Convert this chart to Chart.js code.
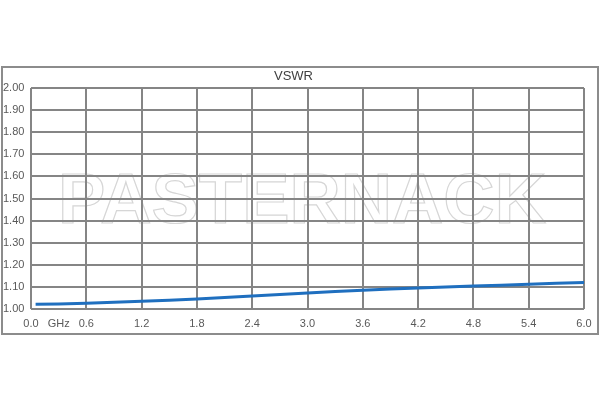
<!DOCTYPE html>
<html lang="en">
<head>
    <meta charset="UTF-8">
    <title>VSWR</title>
    <script src="https://cdn.jsdelivr.net/npm/chart.js"></script>
    <style>
        body { margin: 0; background: #fff; }
        canvas { display: block; }
    </style>
</head>
<body>
    <canvas id="vswrChart" width="600" height="400"></canvas>
    <script>
        const freqGHz = [0.05, 0.3, 0.6, 0.9, 1.2, 1.5, 1.8, 2.1, 2.4, 2.7, 3.0, 3.3, 3.6, 3.9, 4.2, 4.5, 4.8, 5.1, 5.4, 5.7, 6.0];
        const vswr = [1.021, 1.023, 1.026, 1.030, 1.035, 1.040, 1.045, 1.052, 1.059, 1.066, 1.072, 1.079, 1.085, 1.090, 1.095, 1.100, 1.104, 1.108, 1.112, 1.116, 1.120];
        const unitLabel = 'GHz';
        const watermark = 'PASTERNACK';

        const gridGrey = '#858585';

        const frame = {
            id: 'frame',
            beforeDraw(chart) {
                const c = chart.ctx;
                c.save();
                c.fillStyle = '#fff';
                c.fillRect(0, 0, chart.width, chart.height);
                c.strokeStyle = '#8c8c8c';
                c.lineWidth = 2;
                c.strokeRect(2, 67, 596, 267);
                // watermark under the grid
                c.font = 'bold 71px "Liberation Sans", Arial, sans-serif';
                c.textAlign = 'center';
                c.textBaseline = 'alphabetic';
                c.lineWidth = 1.2;
                c.strokeStyle = '#d6d6d6';
                c.strokeText(watermark, 302, 223);
                c.restore();
            }
        };

        new Chart(document.getElementById('vswrChart'), {
            type: 'line',
            data: {
                datasets: [{
                    data: freqGHz.map((f, i) => ({ x: f, y: vswr[i] })),
                    borderColor: '#1f6fbf',
                    borderWidth: 3,
                    pointRadius: 0,
                    tension: 0
                }]
            },
            options: {
                responsive: false,
                animation: false,
                layout: { padding: { left: 3, right: 16, top: 0, bottom: 0 } },
                plugins: {
                    legend: { display: false },
                    tooltip: { enabled: false },
                    title: {
                        display: true,
                        text: 'VSWR',
                        color: '#404040',
                        font: { family: '"Liberation Sans", Arial, sans-serif', size: 13, weight: 'normal' },
                        padding: { top: 69, bottom: 3.4 }
                    }
                },
                scales: {
                    x: {
                        type: 'linear',
                        min: 0,
                        max: 6,
                        afterFit(scale) { scale.height = 91; },
                        border: { display: false },
                        grid: {
                            color: ctx => ctx.index % 2 ? 'rgba(0,0,0,0)' : gridGrey,
                            lineWidth: 2,
                            drawTicks: false
                        },
                        ticks: {
                            stepSize: 0.3,
                            maxRotation: 0,
                            autoSkip: false,
                            padding: 8,
                            color: '#595959',
                            font: { family: '"Liberation Sans", Arial, sans-serif', size: 11 },
                            callback: (v, i) => i === 1 ? unitLabel : (i % 2 ? '' : v.toFixed(1))
                        }
                    },
                    y: {
                        min: 1,
                        max: 2,
                        afterFit(scale) { scale.width = 28; },
                        border: { display: false },
                        grid: { color: gridGrey, lineWidth: 2, drawTicks: false },
                        ticks: {
                            stepSize: 0.1,
                            crossAlign: 'far',
                            color: '#595959',
                            font: { family: '"Liberation Sans", Arial, sans-serif', size: 11 },
                            callback: v => v.toFixed(2)
                        }
                    }
                }
            },
            plugins: [frame]
        });
    </script>
</body>
</html>
